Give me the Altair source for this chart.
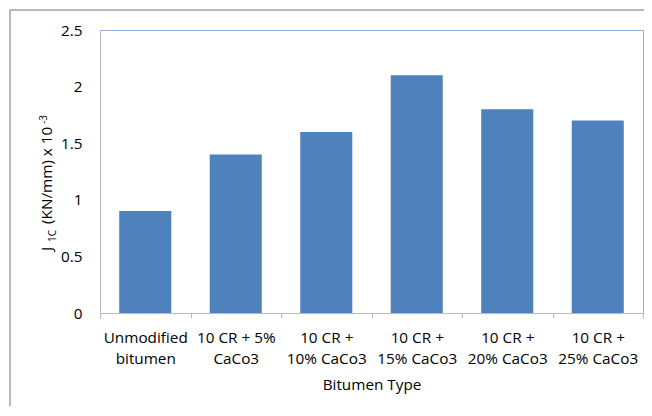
import altair as alt
import pandas as pd

categories = [
    "Unmodified\nbitumen",
    "10 CR + 5%\nCaCo3",
    "10 CR +\n10% CaCo3",
    "10 CR +\n15% CaCo3",
    "10 CR +\n20% CaCo3",
    "10 CR +\n25% CaCo3",
]
values = [0.9, 1.4, 1.6, 2.1, 1.8, 1.7]
y_ticks = [0, 0.5, 1, 1.5, 2, 2.5]

FONT = "Open Sans"
FS = 15.3
BAR = "#4f81bd"
W, H = 543, 283

df = pd.DataFrame({"type": categories, "j": values})

x_enc = alt.X(
    "type:N",
    sort=categories,
    scale=alt.Scale(paddingInner=0, paddingOuter=0),
    axis=alt.Axis(
        title="Bitumen Type",
        labelAngle=0,
        labelExpr="isValid(datum.value) ? split(datum.value, '\\n') : ''",
        labelFont=FONT,
        labelFontSize=FS,
        labelColor="#000000",
        labelLineHeight=21,
        labelPadding=12,
        labelBaseline="top",
        tickBand="extent",
        ticks=True,
        tickSize=5,
        tickColor="#bcbcbc",
        domainColor="#bcbcbc",
        titleFont=FONT,
        titleFontSize=FS,
        titleFontWeight="normal",
        titleColor="#000000",
        titlePadding=11,
        zindex=1,
    ),
)

y_enc = alt.Y(
    "j:Q",
    scale=alt.Scale(domain=[0, 2.5], nice=False),
    axis=alt.Axis(
        title=None,
        values=y_ticks,
        format="~g",
        ticks=False,
        tickSize=0,
        grid=False,
        labelFont=FONT,
        labelFontSize=FS,
        labelColor="#000000",
        labelPadding=18,
        domainColor="#bcbcbc",
        zindex=1,
    ),
)

bars = alt.Chart(df).mark_bar(
    color=BAR, width=alt.RelativeBandSize(0.575)
).encode(x=x_enc, y=y_enc)

# outer chart border
one = alt.Data(values=[{"a": 1}])
border = alt.Chart(one).mark_rect(
    fill=None, stroke="#a3a3a3", strokeWidth=1.5, clip=False
).encode(
    x=alt.value(-90), x2=alt.value(700), y=alt.value(-20), y2=alt.value(500)
)

# y axis title with subscript / superscript pieces
title_pieces = [
    ("J", FS, -48, 221),
    ("1C", 10, -44.5, 212),
    ("(KN/mm) x 10", FS, -48, 194),
    ("-3", 10, -53, 94),
]
title_layers = []
for txt, fs, xo, yo in title_pieces:
    title_layers.append(
        alt.Chart(one).mark_text(
            angle=270, align="left", baseline="alphabetic",
            font=FONT, fontSize=fs, color="#000000",
        ).encode(x=alt.value(xo), y=alt.value(yo), text=alt.value(txt))
    )

chart = alt.layer(border, bars, *title_layers).properties(
    width=W, height=H,
    autosize=alt.AutoSizeParams(type="none"),
    padding={"left": 92, "top": 22, "right": 1, "bottom": 93},
    background="#ffffff",
).configure_view(stroke="#95b3d7", strokeWidth=1)

chart.save("out.html", embed_options={"renderer": "svg", "actions": False})
